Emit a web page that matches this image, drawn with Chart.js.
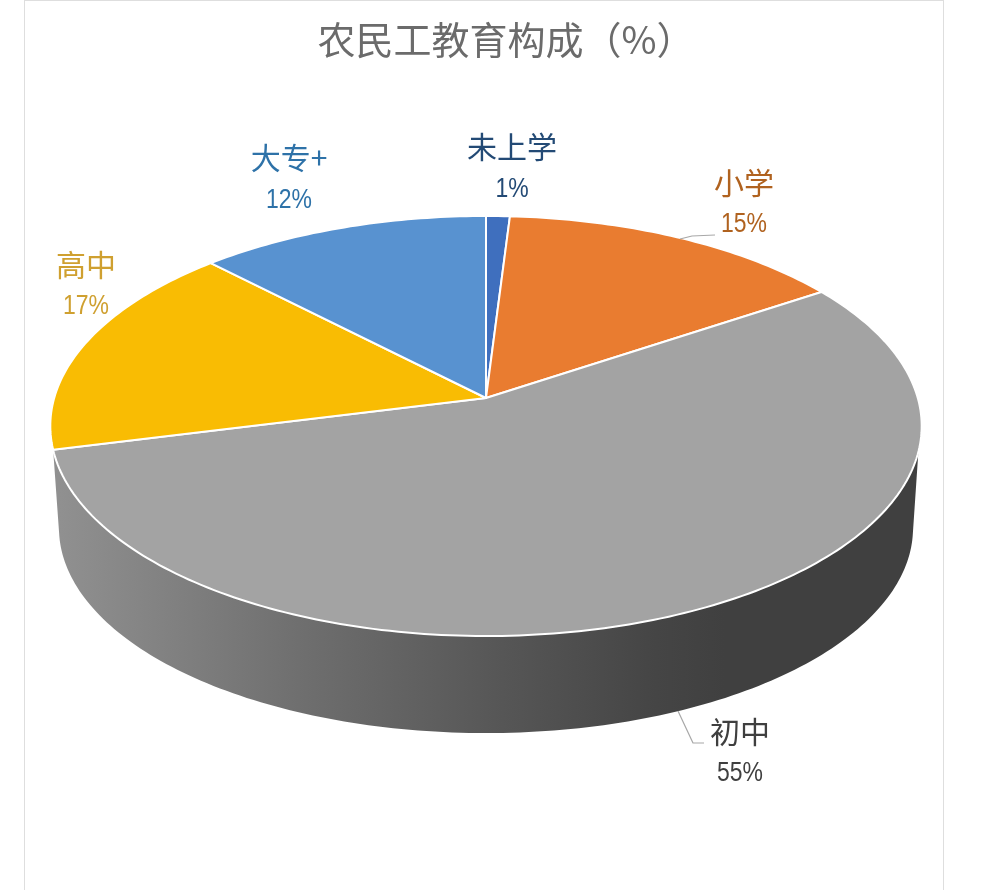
<!DOCTYPE html>
<html lang="zh">
<head>
<meta charset="utf-8">
<title>农民工教育构成</title>
<style>
    html, body { margin: 0; padding: 0; background: #fff; overflow: hidden; }
    #frame { position: absolute; left: 24px; top: 0; width: 918px; height: 900px; border: 1px solid #dedede; }
    canvas { position: absolute; left: 0; top: 0; }
</style>
<script src="https://cdn.jsdelivr.net/npm/chart.js@4/dist/chart.umd.min.js"></script>
</head>
<body>
<div id="frame"></div>
<canvas id="chart" width="986" height="890"></canvas>
<script>
'use strict'

const categories = ['未上学', '小学', '初中', '高中', '大专+']
const shares = [1, 14.7, 55.4, 16.6, 12.3]

const sliceColors = ['#3f6fbe', '#e97c30', '#a3a3a3', '#f9bc03', '#5892d0']
const labelColors = ['#234a75', '#b0621f', '#3f3f3f', '#cfa030', '#2e72a8']
const labelSpots = [[512, 147, 189], [744, 183, 224], [740, 732, 773], [86, 265, 306], [289, 158, 200]]

// perspective view of the disc: the centre sits above the middle of the ellipse
const tilt = 0.1333
const topDisc = { x: 486, y: 398, rx: 431.8, ry: 206.3 }
const bottomDisc = { x: 486, y: 500.7, rx: 423.2, ry: 201.4 }
const deg = Math.PI / 180

const project = (disc, angle) => {
    const u = Math.sin(angle)
    const v = -Math.cos(angle)
    const w = 1 - tilt * v
    return [disc.x + disc.rx * u / w, disc.y + disc.ry * v / w]
}

const traceArc = (ctx, disc, from, to) => {
    const steps = Math.max(2, Math.ceil(Math.abs(to - from) / deg))
    for (let i = 0; i <= steps; i++) {
        const p = project(disc, from + (to - from) * i / steps)
        ctx.lineTo(p[0], p[1])
    }
}

const drawWall = (ctx) => {
    const shade = ctx.createLinearGradient(60, 0, 912, 0)
    shade.addColorStop(0, '#909090')
    shade.addColorStop(0.28, '#6f6f6f')
    shade.addColorStop(0.52, '#565656')
    shade.addColorStop(0.7, '#454545')
    shade.addColorStop(0.78, '#404040')
    shade.addColorStop(1, '#404040')
    ctx.beginPath()
    traceArc(ctx, topDisc, 104.6 * deg, 255.9 * deg)
    traceArc(ctx, bottomDisc, 261 * deg, 99 * deg)
    ctx.closePath()
    ctx.fillStyle = shade
    ctx.fill()
}

const leader = (ctx, points) => {
    ctx.beginPath()
    ctx.moveTo(points[0][0], points[0][1])
    points.slice(1).forEach((p) => ctx.lineTo(p[0], p[1]))
    ctx.strokeStyle = '#a8a8a8'
    ctx.lineWidth = 1.2
    ctx.stroke()
}

const tiltedPie = {
    id: 'tiltedPie',
    beforeDatasetsDraw: function (chart) {
        const ctx = chart.ctx
        const arcs = chart.getDatasetMeta(0).data

        ctx.save()
        drawWall(ctx)

        arcs.forEach((arc, i) => {
            // chart.js starts at -90deg, the projection at 12 o'clock
            const from = arc.startAngle + Math.PI / 2
            const to = arc.endAngle + Math.PI / 2
            ctx.beginPath()
            ctx.moveTo(topDisc.x, topDisc.y)
            traceArc(ctx, topDisc, from, to)
            ctx.closePath()
            ctx.fillStyle = sliceColors[i]
            ctx.fill()
            ctx.strokeStyle = '#ffffff'
            ctx.lineWidth = 2
            ctx.lineJoin = 'round'
            ctx.stroke()
        })

        leader(ctx, [[680, 239], [692, 236], [715, 235]])
        leader(ctx, [[678, 711], [693, 743], [704, 743]])

        ctx.textAlign = 'center'
        ctx.textBaseline = 'middle'
        categories.forEach((name, i) => {
            const spot = labelSpots[i]
            ctx.fillStyle = labelColors[i]
            ctx.font = '30px "Noto Sans CJK SC"'
            ctx.fillText(name, spot[0], spot[1])
            // percentages in the reference are set in a narrow face
            ctx.save()
            ctx.translate(spot[0], spot[2])
            ctx.scale(0.82, 1)
            ctx.font = '28px "Liberation Sans"'
            ctx.fillText(Math.round(shares[i]) + '%', 0, 0)
            ctx.restore()
        })
        ctx.restore()

        return false
    }
}

new Chart(document.getElementById('chart'), {
    type: 'pie',
    data: {
        labels: categories,
        datasets: [{ data: shares, backgroundColor: sliceColors }]
    },
    options: {
        responsive: false,
        animation: false,
        layout: { padding: { left: 26 } },
        plugins: {
            legend: { display: false },
            tooltip: { enabled: false },
            title: {
                display: true,
                text: '农民工教育构成（%）',
                color: '#6b6b6b',
                font: { family: '"Noto Sans CJK SC"', size: 38, weight: 'normal' },
                padding: { top: 17, bottom: 10 }
            }
        }
    },
    plugins: [tiltedPie]
})
</script>
</body>
</html>
